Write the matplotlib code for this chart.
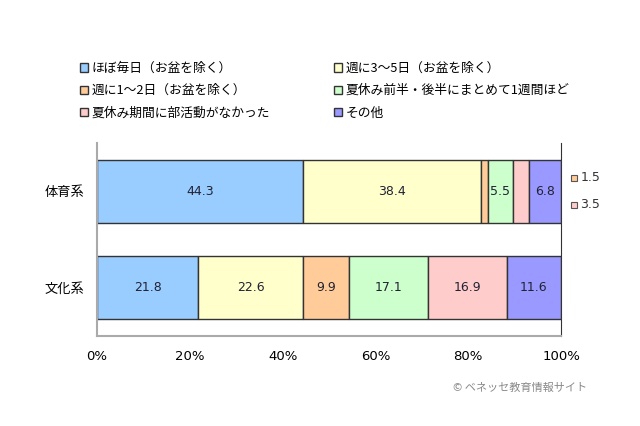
import matplotlib
matplotlib.use("Agg")
from matplotlib import pyplot as plt
import numpy as np

plt.rcParams['font.family'] = ['Noto Sans CJK JP', 'DejaVu Sans']

categories = ['体育系', '文化系']
series_names = ['ほぼ毎日（お盆を除く）', '週に3～5日（お盆を除く）', '週に1～2日（お盆を除く）',
                '夏休み前半・後半にまとめて1週間ほど', '夏休み期間に部活動がなかった', 'その他']
taiiku = [44.3, 38.4, 1.5, 5.5, 3.5, 6.8]
bunka = [21.8, 22.6, 9.9, 17.1, 16.9, 11.6]
colors = ['#99ccff', '#ffffcc', '#ffcc99', '#ccffcc', '#ffcccc', '#9999ff']
tick_vals = [0, 20, 40, 60, 80, 100]

data = np.array([taiiku, bunka])

fig = plt.figure(figsize=(6.4, 4.26), dpi=100)
ax = fig.add_axes([97 / 640, 1 - 336 / 426, 464 / 640, 193 / 426])

y = np.arange(len(categories))
left = np.zeros(len(categories))
bars = []
for i, name in enumerate(series_names):
    b = ax.barh(y, data[:, i], left=left, height=0.65, color=colors[i],
                edgecolor='#333333', linewidth=1, label=name)
    bars.append(b)
    for j in range(len(categories)):
        v = data[j, i]
        if v >= 5:
            ax.text(left[j] + v / 2, y[j], f'{v:.1f}', ha='center', va='center',
                    fontsize=9, color='#222233', family='DejaVu Sans')
    left += data[:, i]

# small values of 体育系 shown to the right
small = [(2, -0.14), (4, 0.14)]
for idx, dy in small:
    ax.plot([1.029], [y[0] + dy], marker='s', markersize=5, color=colors[idx],
            markeredgecolor='#555555', markeredgewidth=0.8,
            transform=ax.get_yaxis_transform(), clip_on=False)
    ax.text(1.042, y[0] + dy, f'{taiiku[idx]:.1f}', transform=ax.get_yaxis_transform(),
            ha='left', va='center', fontsize=9, color='#333333', family='DejaVu Sans')

ax.set_xlim(0, 100)
ax.set_ylim(1.5, -0.5)
ax.set_xticks(tick_vals)
ax.set_xticklabels([f'{t}%' for t in tick_vals], fontsize=9.5, family='DejaVu Sans')
ax.set_yticks(y)
ax.set_yticklabels(categories, fontsize=9.5)
ax.tick_params(axis='y', length=0, pad=9)
ax.tick_params(axis='x', length=0, pad=10)
for s in ['left', 'bottom']:
    ax.spines[s].set_color('#aaaaaa')
    ax.spines[s].set_linewidth(1.5)
ax.spines['right'].set_color('#333333')
ax.spines['top'].set_visible(False)

handles = [b.patches[0] for b in bars]
kw = dict(loc='upper left', frameon=False, fontsize=9.2, handlelength=0.6,
          handleheight=0.6, handletextpad=0.3, labelspacing=0.72, borderpad=0,
          borderaxespad=0)
fig.legend([handles[k] for k in (0, 2, 4)], [series_names[k] for k in (0, 2, 4)],
           bbox_to_anchor=(80 / 640, 1 - 62 / 426), **kw)
fig.legend([handles[k] for k in (1, 3, 5)], [series_names[k] for k in (1, 3, 5)],
           bbox_to_anchor=(334 / 640, 1 - 62 / 426), **kw)

fig.text(587 / 640, 1 - 388 / 426, '© ベネッセ教育情報サイト', ha='right', va='center',
         fontsize=8, color='#888888')

fig.savefig('out.png', dpi=100)
